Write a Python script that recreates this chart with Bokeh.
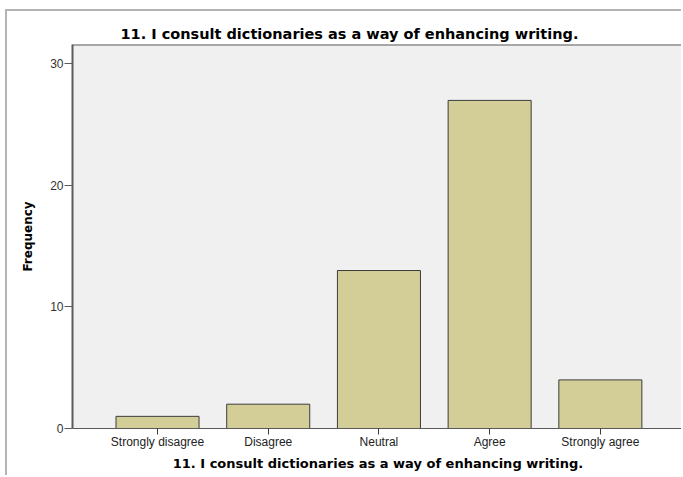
from bokeh.plotting import figure
from bokeh.models import Range1d, FixedTicker, Span
from bokeh.embed import file_html
from bokeh.resources import INLINE

# ---- data ----
categories = ["Strongly disagree", "Disagree", "Neutral", "Agree", "Strongly agree"]
frequencies = [1, 2, 13, 27, 4]
y_ticks = [0, 10, 20, 30]
title_text = "11. I consult dictionaries as a way of enhancing writing."
x_label = "11. I consult dictionaries as a way of enhancing writing."
y_label = "Frequency"

positions = list(range(1, len(categories) + 1))
TICK_FONT = "Liberation Sans"
BOLD_FONT = "DejaVu Sans"
Y_MAX = 31.6

p = figure(width=676, height=466, output_backend="svg", toolbar_location=None,
           x_range=Range1d(0.232, 5.751), y_range=Range1d(0, Y_MAX),
           min_border_left=65, min_border_top=33, min_border_right=0,
           min_border_bottom=49)

p.styles = {"margin-left": "5px", "margin-top": "9px",
            "border-left": "2px solid #b4b4b4", "border-top": "2px solid #b4b4b4"}

p.background_fill_color = "#f0f0f0"
p.border_fill_color = "white"
p.outline_line_color = None
p.xgrid.visible = False
p.ygrid.visible = False

# top edge of the plot frame (frame continues past the right edge of the view)
p.add_layout(Span(location=Y_MAX, dimension="width", line_color="#5a5a5a", line_width=2))

p.vbar(x=positions, top=frequencies, width=0.75, bottom=0,
       fill_color="#d3ce97", line_color="#3c3c3c", line_width=1)

# title
p.title.text = title_text
p.title.text_font = BOLD_FONT
p.title.text_font_size = "14.5px"
p.title.text_font_style = "bold"
p.title.text_color = "black"
p.title.align = "left"
p.title.offset = 48
p.title.standoff = 6

# y axis
ya = p.yaxis[0]
ya.ticker = FixedTicker(ticks=y_ticks)
ya.minor_tick_line_color = None
ya.axis_line_color = "#5a5a5a"
ya.axis_line_width = 2
ya.major_tick_line_color = "#5a5a5a"
ya.major_tick_out = 8
ya.major_tick_in = 0
ya.major_label_standoff = 1
ya.major_label_text_font = TICK_FONT
ya.major_label_text_font_size = "12px"
ya.major_label_text_color = "#333333"
ya.axis_label = y_label
ya.axis_label_text_font = BOLD_FONT
ya.axis_label_text_font_size = "12px"
ya.axis_label_text_font_style = "bold"
ya.axis_label_text_color = "black"
ya.axis_label_standoff = 12

# x axis
xa = p.xaxis[0]
xa.ticker = FixedTicker(ticks=positions)
xa.major_label_overrides = {pos: c for pos, c in zip(positions, categories)}
xa.minor_tick_line_color = None
xa.axis_line_color = "#5a5a5a"
xa.axis_line_width = 1
xa.major_tick_line_color = "#3c3c3c"
xa.major_tick_out = 6
xa.major_tick_in = 0
xa.major_label_standoff = 0
xa.major_label_text_font = TICK_FONT
xa.major_label_text_font_size = "12px"
xa.major_label_text_color = "#222222"
xa.axis_label = x_label
xa.axis_label_text_font = BOLD_FONT
xa.axis_label_text_font_size = "13px"
xa.axis_label_text_font_style = "bold"
xa.axis_label_text_color = "black"
xa.axis_label_standoff = 4

open("out.html", "w").write(file_html(p, INLINE))
